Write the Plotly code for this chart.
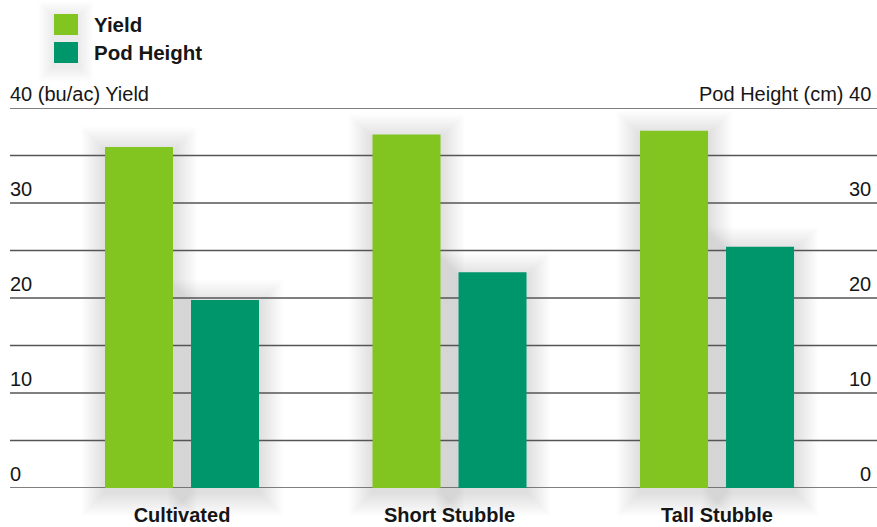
import plotly.graph_objects as go

# Data
categories = ["Cultivated", "Short Stubble", "Tall Stubble"]
yield_bu_ac = [35.9, 37.2, 37.6]
pod_height_cm = [19.8, 22.7, 25.4]
tick_values = [0, 10, 20, 30, 40]
left_tick_labels = ["0", "10", "20", "30", "40 (bu/ac) Yield"]
right_tick_labels = ["0", "10", "20", "30", "Pod Height (cm) 40"]
series_names = ["Yield", "Pod Height"]

YIELD_COLOR = "#82C520"
POD_COLOR = "#00966C"
TEXT_COLOR = "#161616"
GRID_COLOR = "#555555"
FONT = "Liberation Sans, Arial, sans-serif"

W, H = 877, 527
M_L, M_R, M_T, M_B = 10, 0, 108, 39
PW, PH = W - M_L - M_R, H - M_T - M_B

X_RANGE = [-0.643, 2.598]
Y_RANGE = [0, 40]
PX_PER_X = PW / (X_RANGE[1] - X_RANGE[0])

bar_w = 68 / PX_PER_X
yield_off = -77 / PX_PER_X
pod_off = 9 / PX_PER_X

x_idx = list(range(len(categories)))

fig = go.Figure()
fig.add_trace(go.Bar(x=x_idx, y=yield_bu_ac, name=series_names[0], marker_color=YIELD_COLOR,
                     marker_line_width=0, width=bar_w, offset=yield_off, showlegend=False))
fig.add_trace(go.Bar(x=x_idx, y=pod_height_cm, name=series_names[1], marker_color=POD_COLOR,
                     marker_line_width=0, width=bar_w, offset=pod_off, showlegend=False))


def xp(xv):
    return (xv - X_RANGE[0]) / (X_RANGE[1] - X_RANGE[0])


def yp(v):
    return (v - Y_RANGE[0]) / (Y_RANGE[1] - Y_RANGE[0])


shapes = []

# soft drop shadows behind each bar (stacked translucent rects)
N_LAYERS, STEP, ALPHA, DROP = 16, 1.5, 0.0095, 4
for vals, off in ((yield_bu_ac, yield_off), (pod_height_cm, pod_off)):
    for i, v in zip(x_idx, vals):
        x0 = xp(i + off)
        x1 = xp(i + off + bar_w)
        y0 = yp(0)
        y1 = yp(v)
        for k in range(1, N_LAYERS + 1):
            e = k * STEP
            shapes.append(dict(
                type="rect", xref="paper", yref="paper", layer="below",
                x0=x0 - e / PW, x1=x1 + e / PW,
                y0=y0 - (e + DROP) / PH, y1=y1 + (e - DROP) / PH,
                line_width=0, fillcolor=f"rgba(0,0,0,{ALPHA})"))

# horizontal rules every 5 units
for g in range(0, 41, 5):
    shapes.append(dict(type="line", xref="paper", yref="y", layer="below",
                       x0=0, x1=1, y0=g, y1=g,
                       line=dict(color=GRID_COLOR, width=1.5)))


def px_x(p):
    return (p - M_L) / PW


def px_y(p):
    return (M_T + PH - p) / PH


# faint glow behind the legend swatches
for k in range(1, 11):
    e = k * 1.5
    shapes.append(dict(type="rect", xref="paper", yref="paper", layer="below",
                       x0=px_x(54 - e), x1=px_x(78 + e), y0=px_y(63 + e + 3), y1=px_y(14 - e + 3),
                       line_width=0, fillcolor="rgba(0,0,0,0.006)"))

annotations = []
legend_rows = [(series_names[0], YIELD_COLOR, 14, 35), (series_names[1], POD_COLOR, 42, 63)]
for name, color, top, bot in legend_rows:
    shapes.append(dict(type="rect", xref="paper", yref="paper", layer="above",
                       x0=px_x(54), x1=px_x(78), y0=px_y(bot), y1=px_y(top),
                       line_width=0, fillcolor=color))
    annotations.append(dict(xref="paper", yref="paper", x=px_x(92), y=px_y((top + bot) / 2),
                            xanchor="left", yanchor="middle", showarrow=False,
                            text=name, font=dict(family=FONT, size=20.5, color=TEXT_COLOR, weight="bold")))

for v, lt, rt in zip(tick_values, left_tick_labels, right_tick_labels):
    annotations.append(dict(xref="paper", yref="y", x=0, y=v, xanchor="left", yanchor="bottom",
                            xshift=-2, yshift=1, showarrow=False, text=lt,
                            font=dict(family=FONT, size=20, color=TEXT_COLOR)))
    annotations.append(dict(xref="paper", yref="y", x=1, y=v, xanchor="right", yanchor="bottom",
                            xshift=-4, yshift=1, showarrow=False, text=rt,
                            font=dict(family=FONT, size=20, color=TEXT_COLOR)))

fig.update_layout(
    width=W, height=H,
    margin=dict(l=M_L, r=M_R, t=M_T, b=M_B, pad=0, autoexpand=False),
    paper_bgcolor="white", plot_bgcolor="rgba(0,0,0,0)",
    shapes=shapes, annotations=annotations,
    showlegend=False,
    xaxis=dict(range=X_RANGE, tickvals=x_idx, ticktext=categories, showgrid=False,
               zeroline=False, showline=False, ticks="outside", ticklen=9,
               tickcolor="rgba(0,0,0,0)", automargin=False,
               tickfont=dict(family=FONT, size=20, color=TEXT_COLOR, weight="bold")),
    yaxis=dict(range=Y_RANGE, showgrid=False, zeroline=False, showticklabels=False,
               showline=False, automargin=False),
)

fig.write_html("out.html")
